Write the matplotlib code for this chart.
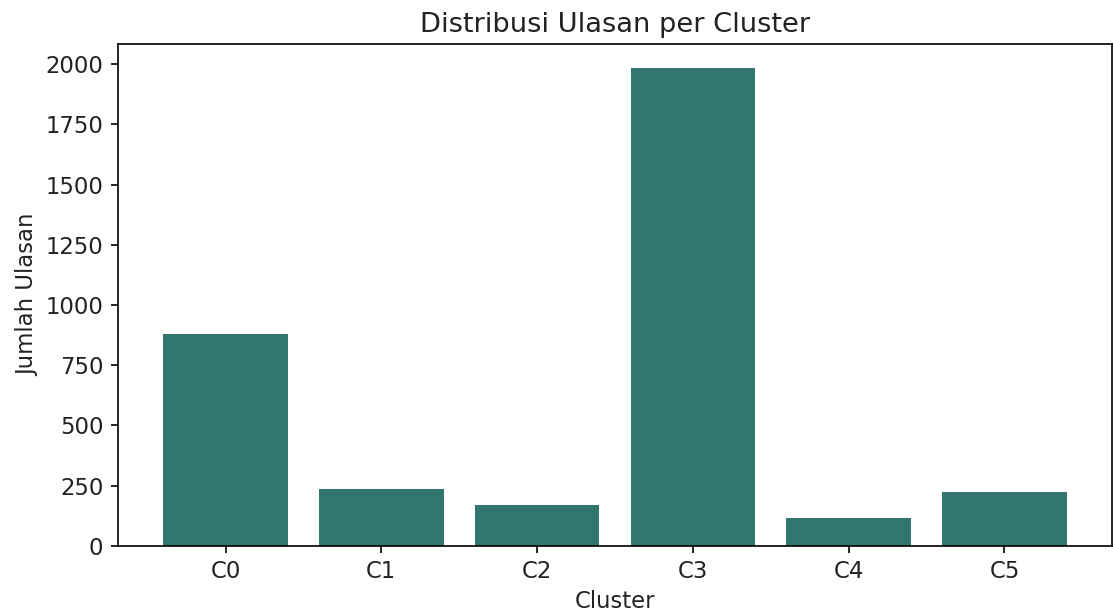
import matplotlib
matplotlib.use("Agg")
import matplotlib.pyplot as plt

clusters = ["C0", "C1", "C2", "C3", "C4", "C5"]
counts = [878, 236, 169, 1985, 116, 222]

plt.rcParams["font.size"] = 10.9
plt.rcParams["text.color"] = "#222222"
plt.rcParams["axes.labelcolor"] = "#222222"
plt.rcParams["xtick.labelcolor"] = "#222222"
plt.rcParams["ytick.labelcolor"] = "#222222"

W, H, DPI = 1113, 616, 150
fig = plt.figure(figsize=(W / DPI, H / DPI), dpi=DPI)
ax = fig.add_axes([118 / W, (H - 545.7) / H, (1112 - 118) / W, (545.7 - 44) / H])
ax.bar(clusters, counts, color="#31766f")
ax.set_title("Distribusi Ulasan per Cluster")
ax.set_xlabel("Cluster", labelpad=3)
ax.set_ylabel("Jumlah Ulasan", labelpad=3)
fig.savefig("out.png", dpi=DPI)
